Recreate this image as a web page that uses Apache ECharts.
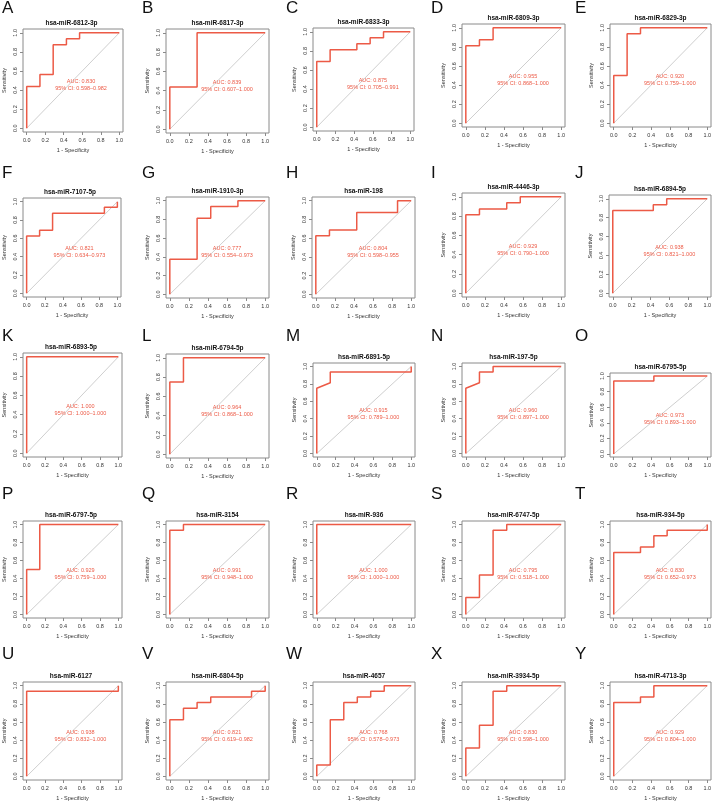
<!DOCTYPE html>
<html>
<head>
<meta charset="utf-8">
<script src="https://cdn.jsdelivr.net/npm/echarts@6/dist/echarts.min.js"></script>
<style>
  html, body { margin: 0; padding: 0; background: #fff; }
  #chart { width: 719px; height: 804px; }
</style>
</head>
<body>
<div id="chart"></div>
<script>
// panel letters and miRNA names
const panelLetters = ['A','B','C','D','E','F','G','H','I','J','K','L','M','N','O','P','Q','R','S','T','U','V','W','X','Y']
const panelNames = [
  'hsa-miR-6812-3p', 'hsa-miR-6817-3p', 'hsa-miR-6833-3p', 'hsa-miR-6809-3p', 'hsa-miR-6829-3p',
  'hsa-miR-7107-5p', 'hsa-miR-1910-3p', 'hsa-miR-198', 'hsa-miR-4446-3p', 'hsa-miR-6894-5p',
  'hsa-miR-6893-5p', 'hsa-miR-6794-5p', 'hsa-miR-6891-5p', 'hsa-miR-197-5p', 'hsa-miR-6795-5p',
  'hsa-miR-6797-5p', 'hsa-miR-3154', 'hsa-miR-936', 'hsa-miR-6747-5p', 'hsa-miR-934-5p',
  'hsa-miR-6127', 'hsa-miR-6804-5p', 'hsa-miR-4657', 'hsa-miR-3934-5p', 'hsa-miR-4713-3p'
]
// AUC and 95% CI printed in each panel
const aucValues = ['0.830','0.839','0.875','0.955','0.920','0.821','0.777','0.804','0.929','0.938',
  '1.000','0.964','0.915','0.960','0.973','0.929','0.991','1.000','0.795','0.830',
  '0.938','0.821','0.768','0.830','0.929']
const ciLow = ['0.598','0.607','0.705','0.868','0.759','0.634','0.554','0.598','0.790','0.821',
  '1.000','0.868','0.789','0.897','0.893','0.759','0.948','1.000','0.518','0.652',
  '0.832','0.619','0.578','0.598','0.804']
const ciHigh = ['0.982','1.000','0.991','1.000','1.000','0.973','0.973','0.955','1.000','1.000',
  '1.000','1.000','1.000','1.000','1.000','1.000','1.000','1.000','1.000','0.973',
  '1.000','0.982','0.973','1.000','1.000']

// ROC points [1 - specificity, sensitivity]
const rocA = [[0,0],[0,0.438],[0.143,0.438],[0.143,0.563],[0.286,0.563],[0.286,0.875],[0.429,0.875],[0.429,0.938],[0.571,0.938],[0.571,1],[1,1]]
const rocB = [[0,0],[0,0.438],[0.286,0.438],[0.286,1],[1,1]]
const rocC = [[0,0],[0,0.688],[0.143,0.688],[0.143,0.813],[0.429,0.813],[0.429,0.875],[0.571,0.875],[0.571,0.938],[0.714,0.938],[0.714,1],[1,1]]
const rocD = [[0,0],[0,0.813],[0.143,0.813],[0.143,0.875],[0.286,0.875],[0.286,1],[1,1]]
const rocE = [[0,0],[0,0.5],[0.143,0.5],[0.143,0.938],[0.286,0.938],[0.286,1],[1,1]]
const rocF = [[0,0],[0,0.625],[0.143,0.625],[0.143,0.688],[0.286,0.688],[0.286,0.875],[0.857,0.875],[0.857,0.938],[1,0.938],[1,1]]
const rocG = [[0,0],[0,0.375],[0.286,0.375],[0.286,0.813],[0.429,0.813],[0.429,0.938],[0.714,0.938],[0.714,1],[1,1]]
const rocH = [[0,0],[0,0.625],[0.143,0.625],[0.143,0.688],[0.429,0.688],[0.429,0.875],[0.857,0.875],[0.857,1],[1,1]]
const rocI = [[0,0],[0,0.813],[0.143,0.813],[0.143,0.875],[0.429,0.875],[0.429,0.938],[0.571,0.938],[0.571,1],[1,1]]
const rocJ = [[0,0],[0,0.875],[0.429,0.875],[0.429,0.938],[0.571,0.938],[0.571,1],[1,1]]
const rocK = [[0,0],[0,1],[1,1]]
const rocL = [[0,0],[0,0.75],[0.143,0.75],[0.143,1],[1,1]]
const rocM = [[0,0],[0,0.75],[0.143,0.813],[0.143,0.938],[1,0.938],[1,1]]
const rocN = [[0,0],[0,0.75],[0.143,0.813],[0.143,0.938],[0.286,0.938],[0.286,1],[1,1]]
const rocO = [[0,0],[0,0.938],[0.429,0.938],[0.429,1],[1,1]]
const rocP = [[0,0],[0,0.5],[0.143,0.5],[0.143,1],[1,1]]
const rocQ = [[0,0],[0,0.938],[0.143,0.938],[0.143,1],[1,1]]
const rocR = [[0,0],[0,1],[1,1]]
const rocS = [[0,0],[0,0.188],[0.143,0.188],[0.143,0.438],[0.286,0.438],[0.286,0.938],[0.429,0.938],[0.429,1],[1,1]]
const rocT = [[0,0],[0,0.688],[0.286,0.688],[0.286,0.75],[0.429,0.75],[0.429,0.875],[0.571,0.875],[0.571,0.938],[1,0.938],[1,1]]
const rocU = [[0,0],[0,0.938],[1,0.938],[1,1]]
const rocV = [[0,0],[0,0.625],[0.143,0.625],[0.143,0.75],[0.286,0.75],[0.286,0.813],[0.429,0.813],[0.429,0.875],[0.857,0.875],[0.857,0.938],[1,0.938],[1,1]]
const rocW = [[0,0],[0,0.125],[0.143,0.125],[0.143,0.625],[0.286,0.625],[0.286,0.813],[0.429,0.813],[0.429,0.875],[0.571,0.875],[0.571,0.938],[0.714,0.938],[0.714,1],[1,1]]
const rocX = [[0,0],[0,0.313],[0.143,0.313],[0.143,0.563],[0.286,0.563],[0.286,0.938],[0.429,0.938],[0.429,1],[1,1]]
const rocY = [[0,0],[0,0.813],[0.286,0.813],[0.286,0.875],[0.429,0.875],[0.429,1],[1,1]]
const rocCurves = [rocA,rocB,rocC,rocD,rocE,rocF,rocG,rocH,rocI,rocJ,rocK,rocL,rocM,rocN,rocO,rocP,rocQ,rocR,rocS,rocT,rocU,rocV,rocW,rocX,rocY]

// axis ticks
const tickValues = [0, 0.2, 0.4, 0.6, 0.8, 1]
const diagonal = [[0, 0], [1, 1]]

// plot box of each panel [left, top, width, height] in px
const boxes = [
  [20, 29, 103, 103], [166, 29, 103, 104], [313, 28, 101, 103], [462, 24, 103, 103], [610, 24, 101, 103],
  [19, 198, 102, 99], [166, 197, 103, 101], [312, 197, 103, 101], [462, 193, 103, 104], [609, 195, 102, 102],
  [20, 353, 102, 104], [166, 354, 103, 104], [313, 363, 102, 94], [462, 363, 103, 94], [610, 373, 101, 84],
  [20, 521, 102, 97], [166, 521, 103, 97], [313, 521, 102, 97], [462, 521, 103, 97], [610, 521, 101, 97],
  [20, 682, 102, 98], [166, 682, 103, 98], [313, 682, 102, 98], [462, 682, 103, 98], [610, 682, 101, 98]
]
const letterX = [2, 142, 286, 431, 575]
const letterY = [0, 165, 328, 486, 646]

const RED = '#ec5a46'
const GREY = '#8a8a8a'
const FONT = 'Liberation Sans, Arial, sans-serif'

// data value -> pixel inside a box (R pads the range by 4%)
const px = (b, v) => b[0] + b[2] * (v + 0.04) / 1.08
const py = (b, v) => b[1] + b[3] * (1.04 - v) / 1.08

const grid = [], xAxis = [], yAxis = [], series = [], title = []

boxes.forEach((b, i) => {
  grid.push({
    left: b[0], top: b[1], width: b[2], height: b[3],
    show: true, borderColor: GREY, borderWidth: 1, backgroundColor: 'transparent'
  })
  const axisCommon = {
    gridIndex: i,
    type: 'value',
    min: -0.04,
    max: 1.04,
    axisLine: { show: false, onZero: false },
    splitLine: { show: false },
    axisTick: { show: true, customValues: tickValues, length: 3, lineStyle: { color: GREY, width: 1 } },
    axisLabel: {
      customValues: tickValues,
      formatter: v => v.toFixed(1),
      fontSize: 5.5,
      color: '#333',
      fontFamily: FONT
    },
    nameLocation: 'middle',
    nameTextStyle: { fontSize: 5.5, color: '#333', fontFamily: FONT }
  }
  xAxis.push({ ...axisCommon, name: '1 - Specificity', nameGap: 15, axisLabel: { ...axisCommon.axisLabel, margin: 5 } })
  yAxis.push({ ...axisCommon, name: 'Sensitivity', nameGap: 16, nameRotate: 90, axisLabel: { ...axisCommon.axisLabel, rotate: 90, margin: 5 } })

  series.push({
    type: 'line', xAxisIndex: i, yAxisIndex: i, data: diagonal,
    symbol: 'none', silent: true, lineStyle: { color: '#cfcfcf', width: 1 }
  })
  series.push({
    type: 'line', xAxisIndex: i, yAxisIndex: i, data: rocCurves[i],
    symbol: 'none', silent: true, lineStyle: { color: RED, width: 1.5 }
  })

  // panel letter
  title.push({
    text: panelLetters[i], left: letterX[i % 5], top: letterY[Math.floor(i / 5)], padding: 0,
    textStyle: { fontSize: 17, fontWeight: 'normal', color: '#111', fontFamily: FONT }
  })
  // panel title
  title.push({
    text: panelNames[i], left: b[0] + b[2] / 2, top: b[1] - 9, textAlign: 'center', padding: 0,
    textStyle: { fontSize: 6.5, fontWeight: 'bold', color: '#111', fontFamily: FONT }
  })
  // AUC text
  title.push({
    text: 'AUC: ' + aucValues[i] + '\n95% CI: ' + ciLow[i] + '\u2013' + ciHigh[i],
    left: px(b, 0.6), top: py(b, 0.45) - 7, textAlign: 'center', padding: 0,
    textStyle: { fontSize: 5.5, fontWeight: 'normal', color: RED, lineHeight: 7, fontFamily: FONT }
  })
})

const chart = echarts.init(document.getElementById('chart'), null, { renderer: 'canvas' })
chart.setOption({
  animation: false,
  backgroundColor: '#fff',
  title,
  grid,
  xAxis,
  yAxis,
  series
})
</script>
</body>
</html>
